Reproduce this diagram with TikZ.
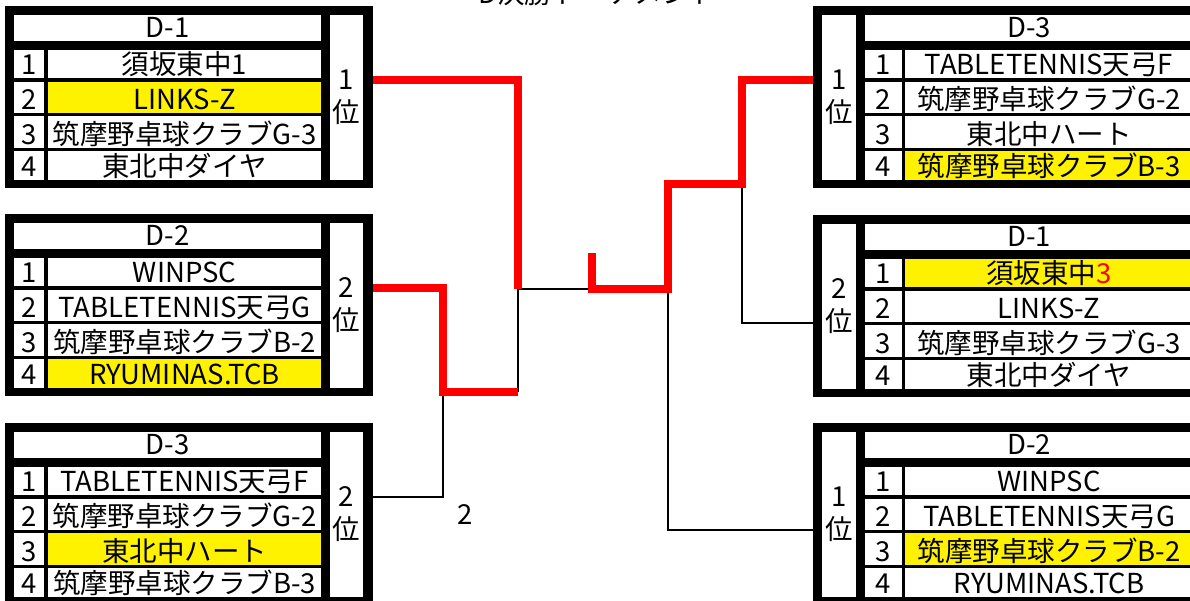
\documentclass[tikz,border=0pt]{standalone}
\usepackage{fontspec}
\setmainfont{Noto Sans CJK JP}
\tikzset{
  frame/.style={fill=black, inner sep=0pt, outer sep=0pt, anchor=north west},
  cellw/.style={fill=white, inner sep=0pt, outer sep=0pt, anchor=north west},
  cellhl/.style={fill=yellow, inner sep=0pt, outer sep=0pt, anchor=north west},
  txt/.style={inner sep=0pt, outer sep=0pt, anchor=base, font=\fontsize{27.5}{31}\selectfont},
  win/.style={draw=red, line width=8.5pt, line join=miter},
  lose/.style={draw=black, line width=2.5pt},
  r1/.style=cellw, r2/.style=cellw, r3/.style=cellw, r4/.style=cellw,
}
% row: id, rownum, top, height, name
\newcommand{\TRow}[5]{%
  \node[cellw, minimum width=\nw pt, minimum height=#4pt] (#1n#2) at (\nx,#3) {};
  \node[r#2, minimum width=\cw pt, minimum height=#4pt] (#1c#2) at (\cx,#3) {};
  \path (#1n#2.south) ++(0,-3.5) node[txt] (#1d#2) {#2};
  \path (#1c#2.south) ++(0,-3.5) node[txt] (#1t#2) {#5};
}
\newcommand{\Rows}[5]{%
  \TRow{#1}{1}{44}{28}{#2}
  \TRow{#1}{2}{75.5}{31.5}{#3}
  \TRow{#1}{3}{110}{32}{#4}
  \TRow{#1}{4}{145}{29}{#5}
}
% left box: id, x, y, title, rank, n1..n4
\newcommand{\LBox}[9]{%
\begin{scope}[shift={(#2,#3)}]
  \def\nx{9}\def\nw{30}\def\cx{43}\def\cw{273}
  \node[frame, minimum width=368pt, minimum height=182pt] (#1) at (0,0) {};
  \node[cellw, minimum width=307pt, minimum height=26pt] (#1h) at (9,9) {};
  \path (#1h.south) ++(0,-4) node[txt] (#1ht) {#4};
  \node[cellw, minimum width=33pt, minimum height=165pt] (#1r) at (325,9) {};
  \node[txt] (#1ra) at (341.5,83) {#5};
  \node[txt] (#1rb) at (341.5,116) {位};
  \Rows{#1}{#6}{#7}{#8}{#9}
\end{scope}}
% right box
\newcommand{\RBox}[9]{%
\begin{scope}[shift={(#2,#3)}]
  \def\nx{52}\def\nw{37}\def\cx{92}\def\cw{288}
  \node[frame, minimum width=389pt, minimum height=182pt] (#1) at (0,0) {};
  \node[cellw, minimum width=328pt, minimum height=26pt] (#1h) at (52,9) {};
  \path (#1h.south) ++(0,-4) node[txt] (#1ht) {#4};
  \node[cellw, minimum width=34pt, minimum height=165pt] (#1r) at (9,9) {};
  \node[txt] (#1ra) at (26,83) {#5};
  \node[txt] (#1rb) at (26,116) {位};
  \Rows{#1}{#6}{#7}{#8}{#9}
\end{scope}}
\begin{document}
\begin{tikzpicture}[x=1pt,y=-1pt]
\useasboundingbox (0,0) rectangle (1190,600);
\clip (0,0) rectangle (1190,600);
\fill[white] (0,0) rectangle (1190,600);
\node[txt] (title) at (598,3) {D決勝トーナメント};

\tikzset{r2/.style=cellhl}
\LBox{L1}{5}{6}{D-1}{1}{須坂東中1}{LINKS-Z}{筑摩野卓球クラブG-3}{東北中ダイヤ}
\tikzset{r2/.style=cellw, r4/.style=cellhl}
\LBox{L2}{5}{214}{D-2}{2}{WINPSC}{TABLETENNIS天弓G}{筑摩野卓球クラブB-2}{RYUMINAS.TCB}
\tikzset{r4/.style=cellw, r3/.style=cellhl}
\LBox{L3}{5}{423}{D-3}{2}{TABLETENNIS天弓F}{筑摩野卓球クラブG-2}{東北中ハート}{筑摩野卓球クラブB-3}
\tikzset{r3/.style=cellw, r4/.style=cellhl}
\RBox{R1}{813}{6}{D-3}{1}{TABLETENNIS天弓F}{筑摩野卓球クラブG-2}{東北中ハート}{筑摩野卓球クラブB-3}
\tikzset{r4/.style=cellw, r1/.style=cellhl}
\RBox{R2}{813}{215}{D-1}{2}{須坂東中\textcolor{red}{3}}{LINKS-Z}{筑摩野卓球クラブG-3}{東北中ダイヤ}
\tikzset{r1/.style=cellw, r3/.style=cellhl}
\RBox{R3}{813}{423}{D-2}{1}{WINPSC}{TABLETENNIS天弓G}{筑摩野卓球クラブB-2}{RYUMINAS.TCB}

\coordinate (a1) at (518,80);
\coordinate (a2) at (518,289);
\coordinate (b1) at (443,288);
\coordinate (b2) at (443,392);
\coordinate (b3) at (518,392);
\coordinate (c0) at (592,253);
\coordinate (c1) at (592,289);
\coordinate (c2) at (668,289);
\coordinate (c3) at (668,184);
\coordinate (c4) at (742,184);
\coordinate (c5) at (742,80);
\coordinate (d1) at (742,323);
\coordinate (e1) at (668,530);
\coordinate (f1) at (443,497);

\draw[lose] (b3) -- (a2) -- (c1);
\draw[lose] (L3.east |- f1) -- (f1) -- (b2);
\draw[lose] (c4) -- (d1) -- (R2.west |- d1);
\draw[lose] (c2) -- (e1) -- (R3.west |- e1);
\draw[win] (L1.east |- a1) -- (a1) -- (a2);
\draw[win] (L2.east |- b1) -- (b1) -- (b2) -- (b3);
\draw[win] (c0) -- (c1) -- (c2) -- (c3) -- (c4) -- (c5) -- (R1.west |- c5);

\node[txt, anchor=center] (lbl) at (465,515) {2};
\end{tikzpicture}
\end{document}
